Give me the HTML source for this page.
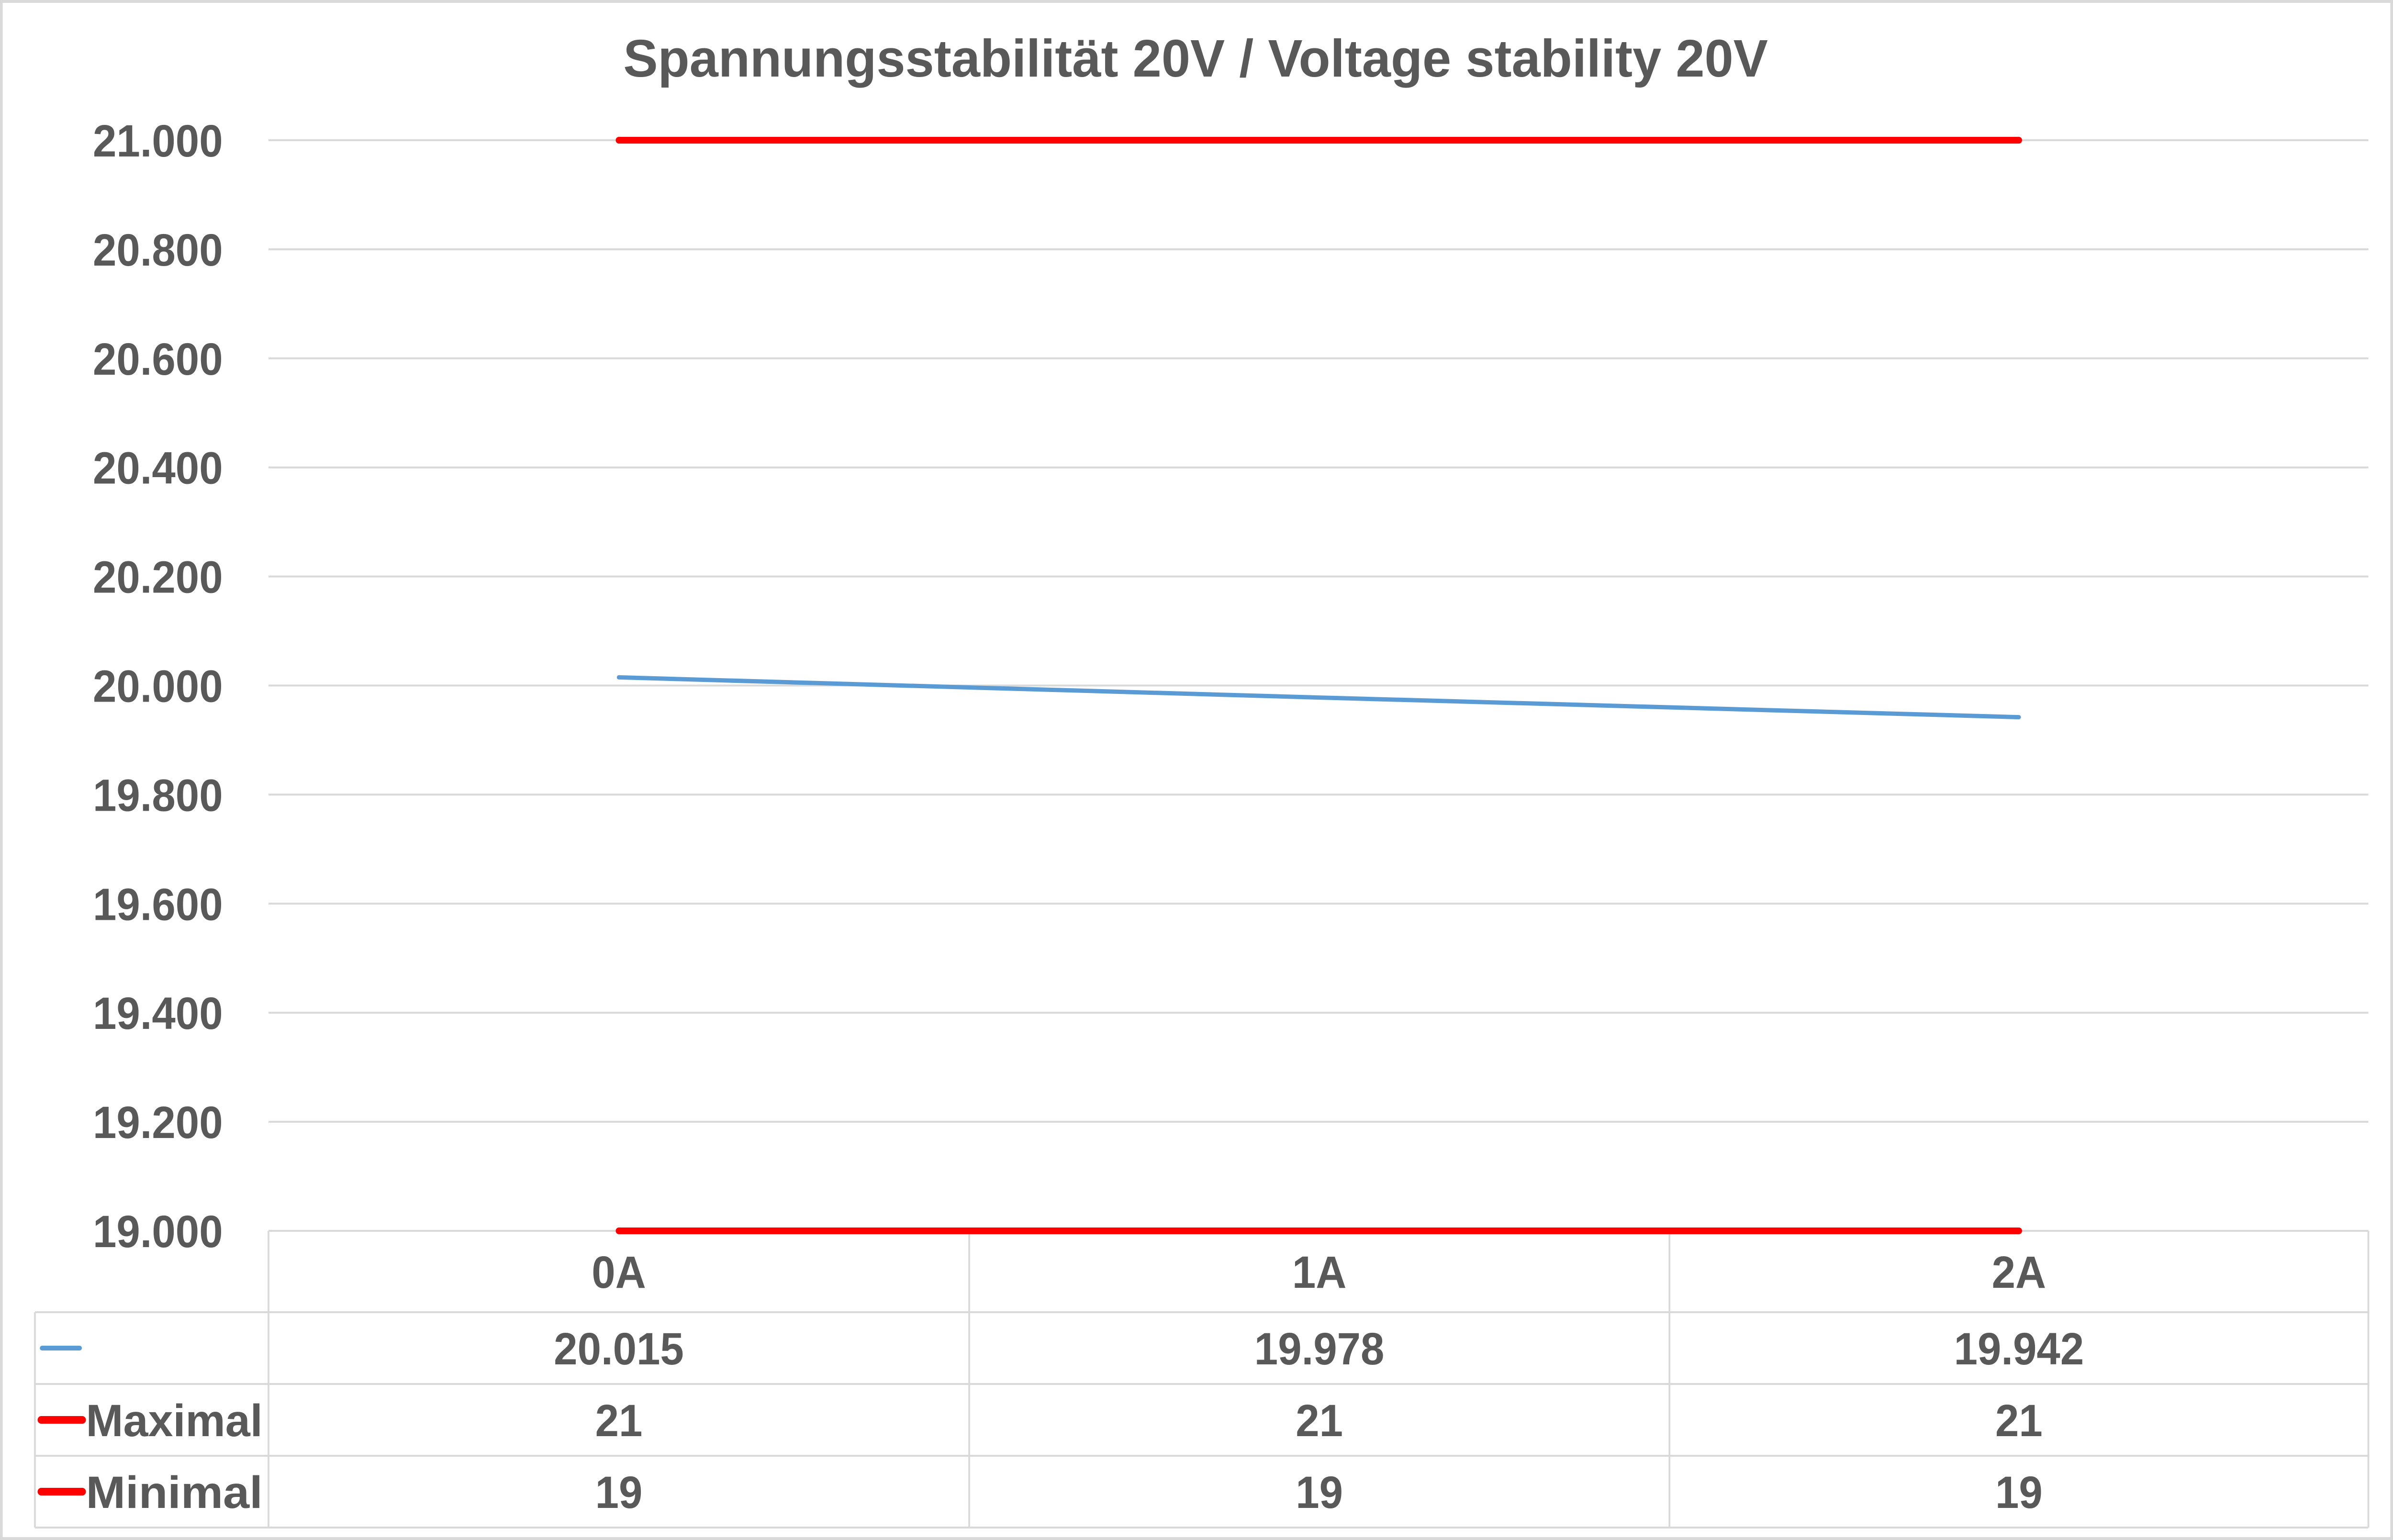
<!DOCTYPE html>
<html><head><meta charset="utf-8"><style>
html,body{margin:0;padding:0;background:#fff;width:100%;height:100%;overflow:hidden;}
svg{display:block;width:100vw;height:100vh;font-family:"Liberation Sans",sans-serif;font-weight:bold;}
</style></head><body>
<svg id="chart" viewBox="0 0 5348 3218" preserveAspectRatio="none" xmlns="http://www.w3.org/2000/svg">
<rect x="3" y="3" width="5342" height="3212" fill="#fff" stroke="#d9d9d9" stroke-width="6"/>
<text x="2672" y="160" text-anchor="middle" font-size="110" fill="#595959" textLength="2558" lengthAdjust="spacingAndGlyphs">Spannungsstabilität 20V / Voltage stability 20V</text>
<g id="grid"></g><g id="ylabels"></g><g id="table"></g><g id="series"></g>
</svg>
<script>
const categories = ["0A","1A","2A"];
const measured = [20.015, 19.978, 19.942];
const maximal = [21, 21, 21];
const minimal = [19, 19, 19];
const yTicks = [19.0,19.2,19.4,19.6,19.8,20.0,20.2,20.4,20.6,20.8,21.0];
const measuredLabels = ["20.015","19.978","19.942"];
const maximalLabels = ["21","21","21"];
const minimalLabels = ["19","19","19"];

const NS="http://www.w3.org/2000/svg";
const plotL=600, plotR=5293, yTop=293, yBot=2572, yMin=19, yMax=21;
const colEdges=[600,2166,3731,5293];
const y = v => yBot - (v-yMin)/(yMax-yMin)*(yBot-yTop);
const x = i => (colEdges[i]+colEdges[i+1])/2;
function mk(tag, attrs, parent){const e=document.createElementNS(NS,tag);for(const k in attrs)e.setAttribute(k,attrs[k]);document.getElementById(parent).appendChild(e);return e;}

yTicks.forEach(t=>{
  const g=mk('line',{x1:plotL,x2:plotR,y1:y(t),y2:y(t),stroke:'#d9d9d9','stroke-width':4},'grid');
  
  
  const l=mk('text',{x:498,y:y(t)+34,'text-anchor':'end','font-size':95,fill:'#595959'},'ylabels');
  
  
  l.textContent=t.toFixed(3);
});

const rowEdges=[2572,2742,2892,3042,3192];
[2742,2892,3042,3192].forEach(ry=>{
  const r=mk('line',{x1:78,x2:plotR,y1:ry,y2:ry,stroke:'#d9d9d9','stroke-width':4},'table');
  
  
});
colEdges.forEach(cx=>{
  const c=mk('line',{x1:cx,x2:cx,y1:yBot,y2:3192,stroke:'#d9d9d9','stroke-width':4},'table');
  
  
});
const lv=mk('line',{x1:78,x2:78,y1:2742,y2:3192,stroke:'#d9d9d9','stroke-width':4},'table');



const rows=[categories, measuredLabels, maximalLabels, minimalLabels];
const rowNames=['category-label','measured-value','maximal-value','minimal-value'];
rows.forEach((arr,ri)=>{
  const cy=(rowEdges[ri]+rowEdges[ri+1])/2;
  arr.forEach((s,i)=>{
    const t=mk('text',{x:x(i),y:cy+34,'text-anchor':'middle','font-size':95,fill:'#595959'},'table');
    
    
    t.textContent=s;
  });
});
const k1=mk('line',{x1:94,x2:178,y1:2817,y2:2817,stroke:'#5b9bd5','stroke-width':10,'stroke-linecap':'round'},'table');


[[2967,'Maximal'],[3117,'Minimal']].forEach(([ly,name])=>{
  const k=mk('line',{x1:92,x2:184,y1:ly,y2:ly,stroke:'#ff0000','stroke-width':16,'stroke-linecap':'round'},'table');
  
  
  const t=mk('text',{x:192,y:ly+34,'font-size':95,fill:'#595959',textLength:395,lengthAdjust:'spacingAndGlyphs'},'table');
  
  
  t.textContent=name;
});

function series(vals,color,w,name){
  const pts=vals.map((v,i)=>x(i)+','+y(v)).join(' ');
  const p=mk('polyline',{points:pts,fill:'none',stroke:color,'stroke-width':w,'stroke-linecap':'round'},'series');
  
  
}
series(measured,'#5b9bd5',9,'measured-line');
series(maximal,'#ff0000',14,'maximal-line');
series(minimal,'#ff0000',14,'minimal-line');
</script>
</body></html>
